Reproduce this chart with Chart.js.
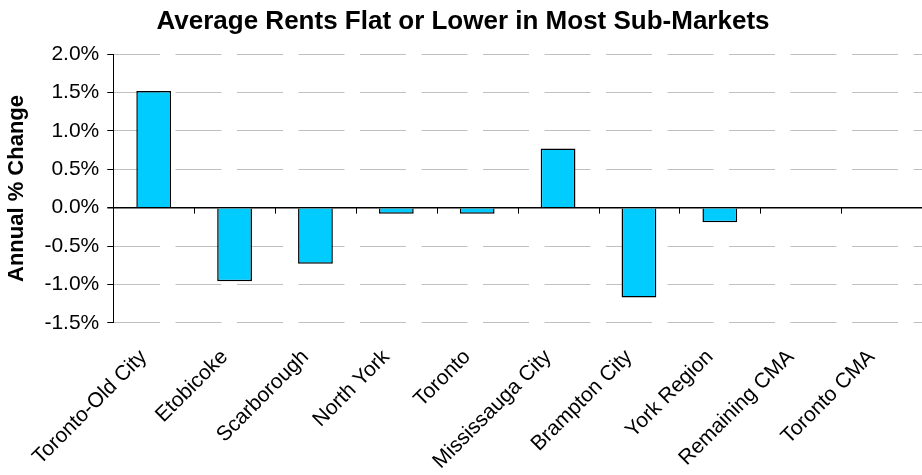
<!DOCTYPE html>
<html>
<head>
<meta charset="utf-8">
<script src="https://cdn.jsdelivr.net/npm/chart.js@4.4.0/dist/chart.umd.min.js"></script>
<style>
  html, body { margin: 0; padding: 0; background: #fff; }
  #wrap { width: 922px; height: 475px; }
</style>
</head>
<body>
<div id="wrap"><canvas id="mycanvas"></canvas></div>
<script>
// data (annual % change)
var subMarkets = ['Toronto-Old City', 'Etobicoke', 'Scarborough', 'North York', 'Toronto',
    'Mississauga City', 'Brampton City', 'York Region', 'Remaining CMA', 'Toronto CMA'];
var rentChange = [1.52, -0.96, -0.73, -0.08, -0.08, 0.77, -1.17, -0.19, null, null];
var yTicks = [-1.5, -1.0, -0.5, 0.0, 0.5, 1.0, 1.5, 2.0];

var font = "'Liberation Sans', Arial, sans-serif";

// zero line tick marks between categories (like the old excel chart)
var zeroTicks = {
    id: 'zeroTicks',
    afterDatasetsDraw: function (chart) {
        var x = chart.scales.x, y = chart.scales.y;
        var ctx = chart.ctx;
        var y0 = y.getPixelForValue(0);
        var half = (x.getPixelForValue(1) - x.getPixelForValue(0)) / 2;
        ctx.save();
        ctx.strokeStyle = '#000';
        ctx.lineWidth = 1;
        ctx.beginPath();
        for (var i = 0; i < subMarkets.length; i++) {
            var px = Math.round(x.getPixelForValue(i) + half) + 0.5;
            ctx.moveTo(px, y0);
            ctx.lineTo(px, y0 + 6);
        }
        ctx.stroke();
        ctx.restore();
    }
};

var ctx = document.getElementById('mycanvas');

var barGraph = new Chart(ctx, {
    type: 'bar',
    data: {
        labels: subMarkets,
        datasets: [{
            label: 'Annual % Change',
            backgroundColor: '#00ccff',
            borderColor: '#000',
            borderWidth: 1.5,
            barPercentage: 0.43,
            categoryPercentage: 1,
            data: rentChange
        }]
    },
    plugins: [zeroTicks],
    options: {
        responsive: true,
        maintainAspectRatio: false,
        animation: false,
        layout: { padding: { left: 4, right: 0, top: 6, bottom: -13 } },
        plugins: {
            legend: { display: false },
            tooltip: { enabled: false },
            title: {
                display: true,
                text: 'Average Rents Flat or Lower in Most Sub-Markets',
                color: '#000',
                font: { family: font, size: 26, weight: 'bold' },
                padding: { top: 0, bottom: 17 }
            }
        },
        scales: {
            x: {
                grid: { display: false },
                border: { display: false },
                ticks: {
                    color: '#000',
                    font: { family: font, size: 21 },
                    maxRotation: 45,
                    minRotation: 45,
                    autoSkip: false,
                    padding: 14,
                    labelOffset: -10
                }
            },
            y: {
                min: -1.5,
                max: 2.0,
                afterBuildTicks: function (axis) {
                    axis.ticks = yTicks.map(function (v) { return { value: v }; });
                },
                grid: {
                    color: function (c) { return c.tick && c.tick.value === 0 ? '#000' : '#c0c0c0'; },
                    lineWidth: function (c) { return c.tick && c.tick.value === 0 ? 1.5 : 1; },
                    tickColor: '#000',
                    tickLength: 6
                },
                border: {
                    display: true,
                    color: '#000',
                    width: 1,
                    dash: function (c) { return c.tick && c.tick.value === 0 ? [] : [46, 15.5]; }
                },
                ticks: {
                    color: '#000',
                    font: { family: font, size: 21 },
                    padding: 8,
                    callback: function (v) { return v.toFixed(1) + '%'; }
                },
                title: {
                    display: true,
                    text: 'Annual % Change',
                    color: '#000',
                    font: { family: font, size: 22, weight: 'bold' },
                    padding: { top: 0, bottom: 6 }
                }
            }
        }
    }
});
</script>
</body>
</html>
